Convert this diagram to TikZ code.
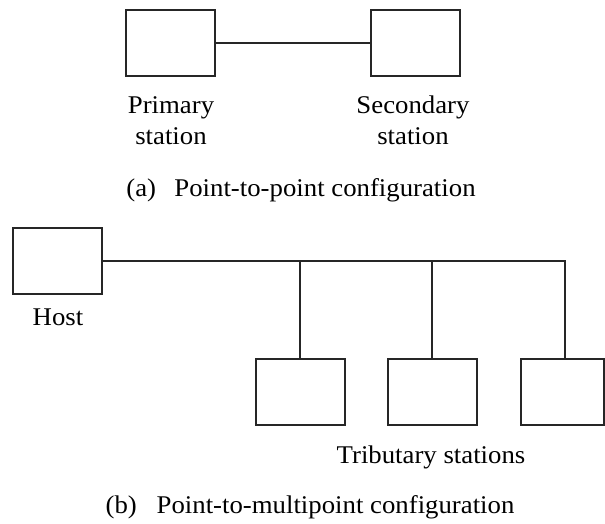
\documentclass[tikz,border=0pt]{standalone}
\usepackage{fontspec}
\setmainfont{Liberation Serif}[FakeStretch=1.05]
\begin{document}
\begin{tikzpicture}[x=1pt,y=-1pt,
  station/.style={draw=black!85,line width=2pt,minimum width=89pt,minimum height=66pt,inner sep=0pt},
  conn/.style={draw=black!85,line width=1.7pt},
  lbl/.style={inner sep=0pt,align=center,font=\fontsize{25.5}{31}\selectfont}]
\useasboundingbox (0,0) rectangle (605,523);
% (a) point-to-point
\node[station] (prim) at (170.5,43) {};
\node[station] (sec) at (415,43) {};
\draw[conn] (prim.east) -- (sec.west);
\node[lbl,anchor=north] (primlbl) at (171,96) {Primary\\station};
\node[lbl,anchor=north] (seclbl) at (413,96) {Secondary\\station};
\node[lbl,anchor=base] (capa) at (301,196) {(a)\hspace{0.72em}Point-to-point configuration};
% (b) point-to-multipoint
\node[station] (host) at (57.5,261) {};
\node[lbl,anchor=base] (hostlbl) at (58,325) {Host};
\coordinate (t1) at (300,261);
\coordinate (t2) at (432,261);
\coordinate (t3) at (565,261);
\node[station] (tb1) at (300,392) {};
\node[station] (tb2) at (432,392) {};
\node[station,minimum width=83pt] (tb3) at (562.5,392) {};
\draw[conn] (host.east) -- (t3) -- (t3 |- tb3.north);
\draw[conn] (t1) -- (tb1.north);
\draw[conn] (t2) -- (tb2.north);
\node[lbl,anchor=base] (triblbl) at (431,463) {Tributary stations};
\node[lbl,anchor=base] (capb) at (310,513) {(b)\hspace{0.78em}Point-to-multipoint configuration};
\end{tikzpicture}
\end{document}
